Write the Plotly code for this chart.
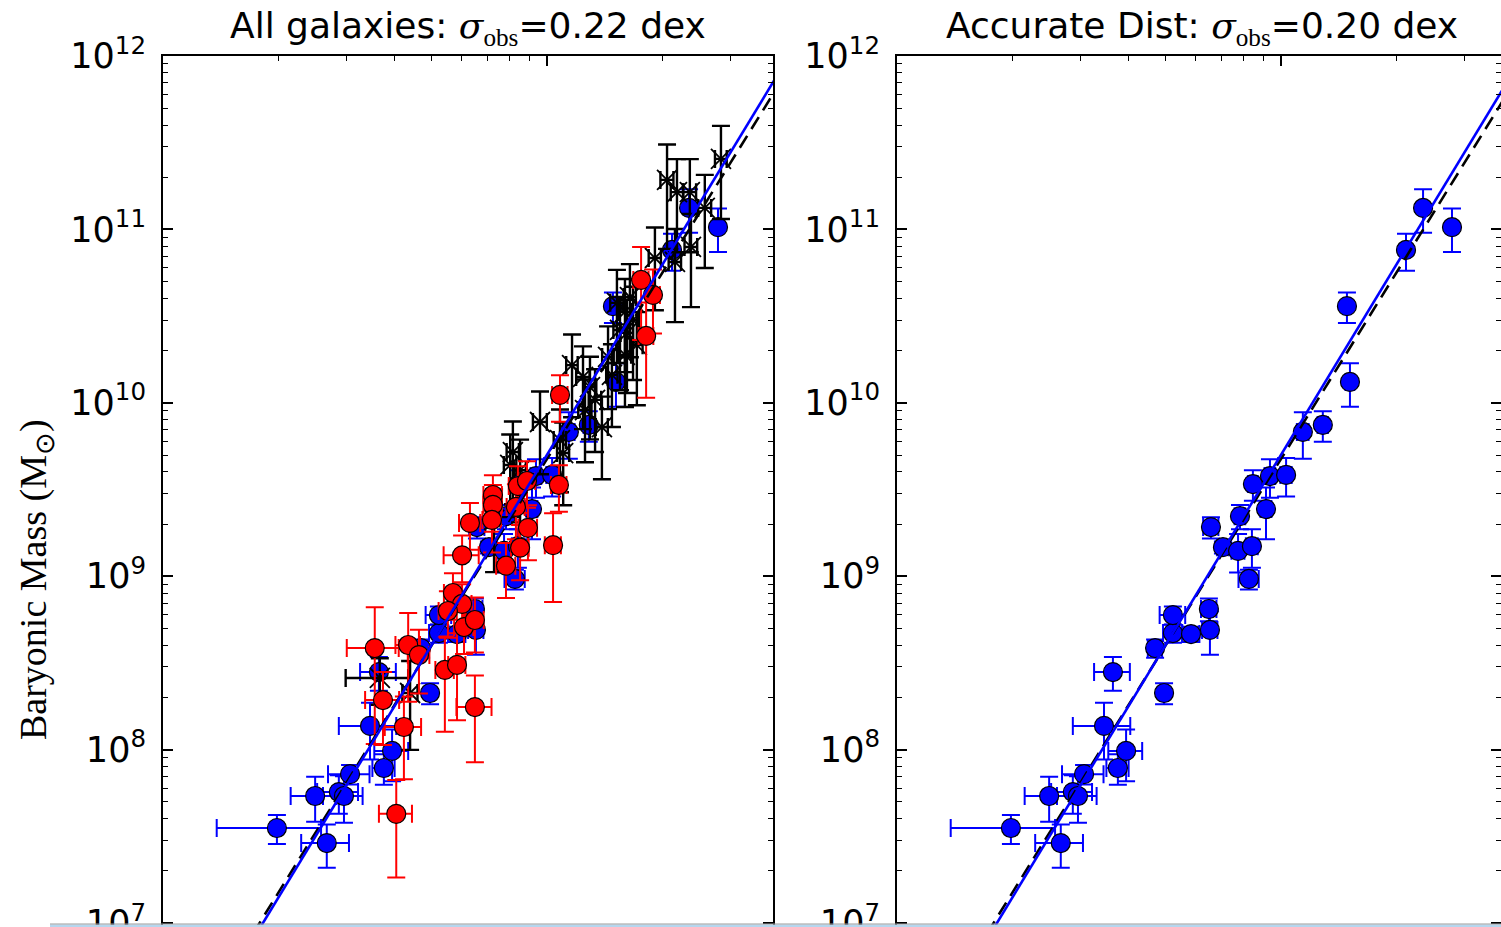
import numpy as np
import plotly.graph_objects as go

W, H = 1501, 927

# ---------------- data ----------------
# Accurate-distance galaxies (blue): rotation velocity (km/s), baryonic mass (Msun)
blue_V = [19.8, 24.9, 26.7, 28.7, 29.6, 30.7, 34.6, 36.5, 37.6, 39.5, 49.6, 47.0,
          52.3, 58.3, 52.3, 64.9, 65.3, 65.7, 70.6, 77.3, 84.0, 82.5, 78.2, 84.5,
          93.6, 103.1, 91.4, 114.0, 128.5, 151.2, 148.5, 211.6, 234.4, 278.8]
blue_M = [3.53e7, 5.40e7, 2.89e7, 5.69e7, 5.40e7, 7.22e7, 1.37e8, 2.80e8, 7.83e7, 9.82e7,
          2.12e8, 3.85e8, 4.70e8, 4.64e8, 5.97e8, 6.47e8, 4.90e8, 1.92e9, 1.47e9, 1.40e9,
          1.49e9, 9.64e8, 2.22e9, 3.40e9, 3.78e9, 3.84e9, 2.44e9, 6.79e9, 7.45e9, 1.32e10,
          3.61e10, 7.61e10, 1.33e11, 1.03e11]
blue_dV = [6.0, 3.4, 3.8, 3.5, 3.5, 3.8, 5.9, 3.9, 2.5, 4.0, 1.0, 2.0, 3.0, 3.0, 4.0, 3.0,
           3.0, 3.0, 2.5, 3.0, 3.0, 5.0, 2.5, 2.5, 3.0, 3.5, 3.0, 4.0, 4.0, 4.0, 3.0, 4.0,
           4.0, 5.0]
blue_fM = [0.19, 0.29, 0.28, 0.25, 0.30, 0.13, 0.36, 0.22, 0.20, 0.33, 0.14, 0.12, 0.12,
           0.10, 0.12, 0.15, 0.28, 0.14, 0.08, 0.25, 0.25, 0.13, 0.16, 0.20, 0.25, 0.25,
           0.33, 0.30, 0.20, 0.28, 0.20, 0.24, 0.28, 0.28]

# Red sample
red_V = [35.6, 43.5, 46.4, 37.4, 42.4, 40.5, 54.2, 58.3, 64.9, 56.9, 60.1, 55.2, 60.8,
         64.9, 60.1, 63.0, 72.3, 72.3, 71.9, 83.0, 84.0, 88.7, 107.4, 89.2, 85.1, 78.2,
         103.7, 108.1, 175.8, 188.8, 181.2]
red_M = [3.85e8, 4.01e8, 3.51e8, 1.93e8, 1.35e8, 4.26e7, 2.88e8, 3.08e8, 1.76e8, 8.0e8,
         6.92e8, 6.30e8, 5.09e8, 5.59e8, 1.32e9, 2.03e9, 2.94e9, 2.58e9, 2.11e9, 2.51e9,
         3.31e9, 3.54e9, 3.36e9, 1.90e9, 1.46e9, 1.15e9, 1.51e9, 1.11e10, 5.11e10, 4.19e10,
         2.43e10]
red_dV = [5.5, 3.2, 3.0, 3.8, 4.6, 4.0, 3.0, 3.0, 6.8, 3.0, 3.5, 3.0, 3.5, 3.5, 6.3, 4.0,
          4.0, 4.0, 4.0, 4.5, 4.5, 4.5, 5.0, 5.0, 4.5, 4.5, 5.0, 5.0, 8.0, 8.0, 8.0]
red_fM = [0.72, 0.53, 0.40, 0.45, 0.50, 0.57, 0.56, 0.52, 0.52, 0.30, 0.30, 0.30, 0.30,
          0.35, 0.30, 0.30, 0.30, 0.30, 0.35, 0.35, 0.30, 0.30, 0.30, 0.35, 0.35, 0.35,
          0.53, 0.30, 0.55, 0.40, 0.56]

# Black sample (crosses)
blk_V = [283.8, 205.4, 218.0, 235.5, 257.6, 237.1, 215.4, 191.0, 164.4, 159.6, 152.1,
         167.5, 161.5, 144.2, 159.6, 129.4, 124.1, 116.2, 139.0, 125.6, 95.9, 81.5, 80.2,
         110.2, 36.7, 44.0, 72.8, 154.9, 171.4, 147.6, 133.4, 108.1, 85.1]
blk_M = [2.55e11, 1.93e11, 1.64e11, 1.64e11, 1.33e11, 7.92e10, 6.49e10, 6.84e10, 4.07e10,
         3.34e10, 3.77e10, 3.01e10, 2.53e10, 1.84e10, 1.89e10, 1.23e10, 1.41e10, 1.65e10,
         7.24e9, 9.08e9, 7.75e9, 5.20e9, 4.38e9, 5.13e9, 2.59e8, 2.12e8, 2.11e9,
         2.63e10, 2.15e10, 1.45e10, 1.04e10, 6.10e9, 4.09e9]
blk_dV = [10, 8, 8, 9, 10, 9, 8, 7, 6, 6, 6, 6, 6, 5, 6, 5, 5, 4, 5, 5, 4, 3, 3, 4, 6.8, 2, 3,
          6, 6, 5, 5, 4, 3]
blk_fM = [0.55, 0.6, 0.55, 0.55, 0.55, 0.55, 0.55, 0.5, 0.55, 0.55, 0.55, 0.55, 0.55, 0.5,
          0.5, 0.5, 0.5, 0.5, 0.5, 0.5, 0.5, 0.5, 0.5, 0.5, 0.3, 0.53, 0.5,
          0.55, 0.55, 0.5, 0.5, 0.5, 0.5]

# Fits: log M = a + b log V
fit_blue = (2.40, 3.65)
fit_dash = (2.526, 3.575)
fit_V = [8.0, 500.0]

ytick_vals = [1e7, 1e8, 1e9, 1e10, 1e11, 1e12]
ytick_text = ["10<sup>7</sup>", "10<sup>8</sup>", "10<sup>9</sup>", "10<sup>10</sup>",
              "10<sup>11</sup>", "10<sup>12</sup>"]
xtick_vals = [10, 100, 1000]

titles = ['All galaxies: <span style="font-family:DejaVu Serif"><i>σ</i></span>'
          '<sub><span style="font-family:Liberation Serif">obs</span></sub>=0.22 dex',
          'Accurate Dist: <span style="font-family:DejaVu Serif"><i>σ</i></span>'
          '<sub><span style="font-family:Liberation Serif">obs</span></sub>=0.20 dex']

# ---------------- figure ----------------
fig = go.Figure()


def err_trace(V, M, dV, fM, color, xa, ya, symbol="circle", msize=19, mcolor=None,
              thick=2.0):
    V = np.array(V, float)
    M = np.array(M, float)
    eM = M * np.array(fM, float)
    marker = dict(symbol=symbol, size=msize)
    if symbol == "circle":
        marker.update(color=mcolor, line=dict(color="black", width=1.2))
    else:
        marker.update(color="black", line=dict(color="black", width=1.8))
    return go.Scatter(
        x=V, y=M, mode="markers", marker=marker, xaxis=xa, yaxis=ya, showlegend=False,
        error_x=dict(type="data", array=list(dV), color=color, thickness=thick, width=9),
        error_y=dict(type="data", array=list(eM), arrayminus=list(eM), color=color,
                     thickness=thick, width=9),
    )


def fit_line(fit, V):
    a, b = fit
    V = np.array(V, float)
    return 10 ** (a + b * np.log10(V))


# left panel
fig.add_trace(err_trace(blue_V, blue_M, blue_dV, blue_fM, "#0000ff", "x", "y", mcolor="#0000ff"))
fig.add_trace(err_trace(blk_V, blk_M, blk_dV, blk_fM, "black", "x", "y", symbol="x-thin-open",
                        msize=20, thick=2.4))
fig.add_trace(err_trace(red_V, red_M, red_dV, red_fM, "#ff0000", "x", "y", mcolor="#ff0000"))
# right panel
fig.add_trace(err_trace(blue_V, blue_M, blue_dV, blue_fM, "#0000ff", "x2", "y2", mcolor="#0000ff"))

for xa, ya in [("x", "y"), ("x2", "y2")]:
    fig.add_trace(go.Scatter(x=fit_V, y=fit_line(fit_dash, fit_V), mode="lines",
                             line=dict(color="black", width=2.6, dash="14px,8px"),
                             xaxis=xa, yaxis=ya, showlegend=False))
    fig.add_trace(go.Scatter(x=fit_V, y=fit_line(fit_blue, fit_V), mode="lines",
                             line=dict(color="#0000ff", width=2.6),
                             xaxis=xa, yaxis=ya, showlegend=False))

ppd_x = 384.0   # px per dex (x)
ppd_y = 173.4   # px per dex (y)
top = 56
yr = [12 - (H - top) / ppd_y, 12]

minor_y = [m * 10 ** e for e in range(6, 12) for m in range(2, 10)]
minor_x = [m * 10 ** e for e in range(0, 3) for m in range(2, 10)]

yax = dict(type="log", range=yr, domain=[0, 1 - top / H], showline=True, linecolor="black",
           linewidth=2, mirror="allticks", ticks="inside", ticklen=10, tickwidth=1.5,
           tickcolor="black", tickmode="array", tickvals=ytick_vals, ticktext=ytick_text,
           tickfont=dict(family="DejaVu Sans", size=35, color="black"), showgrid=False,
           zeroline=False, ticklabelstandoff=8, automargin=False, ticklabeloverflow="allow",
           minor=dict(tickmode="array", tickvals=minor_y, ticks="inside", ticklen=5,
                      tickwidth=1.2, tickcolor="black", showgrid=False))
xax = dict(type="log", side="top", showline=True, linecolor="black", linewidth=2,
           ticks="inside", ticklen=10, tickwidth=1.5, tickcolor="black", tickmode="array",
           tickvals=xtick_vals, showticklabels=False, showgrid=False, zeroline=False,
           automargin=False,
           minor=dict(tickmode="array", tickvals=minor_x, ticks="inside", ticklen=5,
                      tickwidth=1.2, tickcolor="black", showgrid=False))

fig.update_layout(
    width=W, height=H, margin=dict(l=0, r=0, t=0, b=0, autoexpand=False),
    paper_bgcolor="white", plot_bgcolor="white", showlegend=False,
    xaxis=dict(xax, domain=[163 / W, 773 / W], range=[1, 1 + 610 / ppd_x], anchor="y"),
    yaxis=dict(yax, anchor="x"),
    xaxis2=dict(xax, domain=[897 / W, 1.0], range=[1, 1 + 604 / ppd_x], anchor="y2"),
    yaxis2=dict(yax, anchor="x2"),
)

ann = []
for i, cx in enumerate([468, 1202]):
    ann.append(dict(text=titles[i], x=cx / W, y=1 - 28 / H, xref="paper", yref="paper",
                    xanchor="center", yanchor="middle", showarrow=False,
                    font=dict(family="DejaVu Sans", size=36, color="black")))
ann.append(dict(text="Baryonic Mass (M<sub>⊙</sub>)", x=36 / W, y=1 - 580 / H,
                xref="paper", yref="paper", xanchor="center", yanchor="middle",
                showarrow=False, textangle=-90,
                font=dict(family="Liberation Serif", size=38, color="black")))
fig.update_layout(annotations=ann)

# bottom border strip of the original picture
fig.add_shape(type="rect", xref="paper", yref="paper", x0=50 / W, x1=1, y0=0, y1=2.5 / H,
              fillcolor="#b5d6ee", line=dict(width=0), layer="above")
fig.add_shape(type="line", xref="paper", yref="paper", x0=50 / W, x1=1, y0=3 / H, y1=3 / H,
              line=dict(color="#9a9a9a", width=1), layer="above")

fig.write_html("out.html")
